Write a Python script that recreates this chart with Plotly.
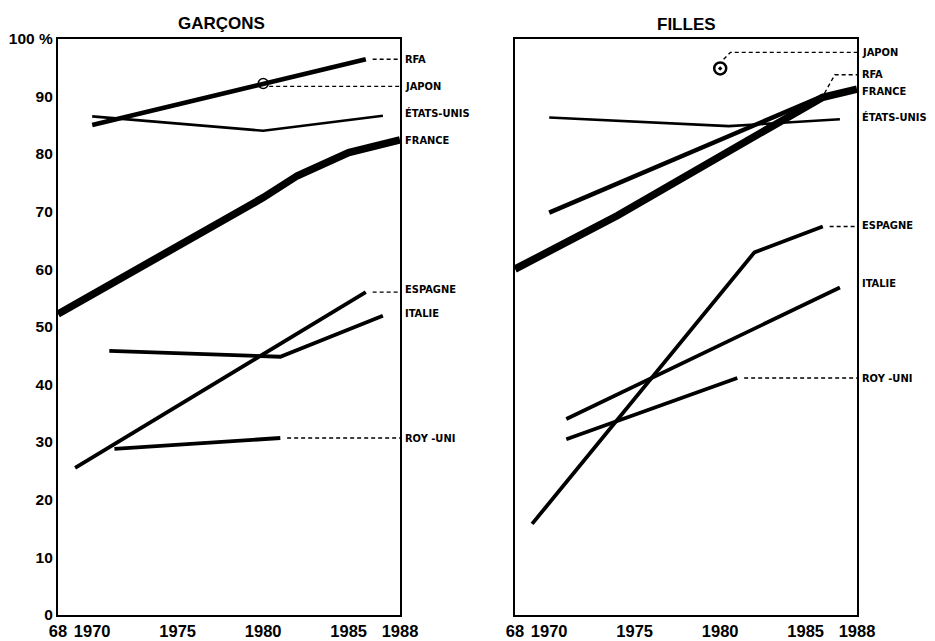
import plotly.graph_objects as go

# ---------------- DATA ----------------
# GARÇONS (boys)
rfa_b_years = [1970, 1986]
rfa_b = [85.0, 96.4]
japon_b_years = [1980]
japon_b = [92.2]
usa_b_years = [1970, 1980, 1987]
usa_b = [86.5, 84.0, 86.6]
fra_b_years = [1968, 1980, 1982, 1985, 1988]
fra_b = [52.2, 72.4, 76.2, 80.2, 82.4]
esp_b_years = [1969, 1986]
esp_b = [25.5, 56.0]
ita_b_years = [1971, 1981, 1987]
ita_b = [45.8, 44.8, 51.9]
ru_b_years = [1971.3, 1981]
ru_b = [28.8, 30.7]

# FILLES (girls)
japon_g_years = [1980]
japon_g = [94.8]
rfa_g_years = [1970, 1986]
rfa_g = [69.8, 90.0]
fra_g_years = [1968, 1974, 1983, 1986, 1988]
fra_g = [60.0, 69.3, 84.7, 89.8, 91.2]
usa_g_years = [1970, 1980.5, 1987]
usa_g = [86.3, 84.8, 86.0]
esp_g_years = [1969, 1982, 1986]
esp_g = [15.8, 62.9, 67.4]
ita_g_years = [1971, 1987]
ita_g = [34.0, 56.8]
ru_g_years = [1971, 1981]
ru_g = [30.5, 41.1]

x_tickvals = [1968, 1970, 1975, 1980, 1985, 1988]
x_ticktext = ["68", "1970", "1975", "1980", "1985", "1988"]
y_tickvals = [0, 10, 20, 30, 40, 50, 60, 70, 80, 90, 100]
y_ticktext = ["0", "10", "20", "30", "40", "50", "60", "70", "80", "90", "100 %"]

panel_titles = ["GARÇONS", "FILLES"]

# ---------------- STYLE / PLACEMENT ----------------
LABEL_FONT = dict(family="Liberation Sans Narrow, DejaVu Sans Condensed, Liberation Sans, Arial",
                  size=11, color="black", weight=700)
XTICK_FONT = dict(family="Liberation Sans, Arial", size=16.5, color="black", weight=700)
YTICK_FONT = dict(family="Liberation Sans, Arial", size=15.5, color="black", weight=700)

# series: (name, years, values, width)
boys = [
    ("RFA", rfa_b_years, rfa_b, 4.8),
    ("ÉTATS-UNIS", usa_b_years, usa_b, 2.6),
    ("FRANCE", fra_b_years, fra_b, 7.5),
    ("ESPAGNE", esp_b_years, esp_b, 3.8),
    ("ITALIE", ita_b_years, ita_b, 3.8),
    ("ROY -UNI", ru_b_years, ru_b, 3.8),
]
girls = [
    ("RFA", rfa_g_years, rfa_g, 4.5),
    ("ÉTATS-UNIS", usa_g_years, usa_g, 2.6),
    ("FRANCE", fra_g_years, fra_g, 7.5),
    ("ESPAGNE", esp_g_years, esp_g, 3.8),
    ("ITALIE", ita_g_years, ita_g, 3.8),
    ("ROY -UNI", ru_g_years, ru_g, 3.8),
]

# label vertical placement (value units) for the right-hand labels
boys_label_y = {"RFA": 96.4, "JAPON": 91.7, "ÉTATS-UNIS": 87.0, "FRANCE": 82.3,
                "ESPAGNE": 56.4, "ITALIE": 52.3, "ROY -UNI": 30.7}
girls_label_y = {"JAPON": 97.6, "RFA": 93.7, "FRANCE": 90.8, "ÉTATS-UNIS": 86.3,
                 "ESPAGNE": 67.6, "ITALIE": 57.5, "ROY -UNI": 41.1}
# which series get a dashed leader line
boys_leaders = ["RFA", "ESPAGNE", "ROY -UNI"]
girls_leaders = ["RFA", "ESPAGNE", "ROY -UNI"]

X_END = 1988

fig = go.Figure()


def add_panel(series, japon_years, japon_vals, label_y, leaders, xa, ya, japon_symbol, japon_size, japon_lw, japon_bend):
    for name, yrs, vals, w in series:
        fig.add_trace(go.Scatter(x=yrs, y=vals, mode="lines", xaxis=xa, yaxis=ya,
                                 line=dict(color="black", width=w), showlegend=False,
                                 hoverinfo="skip"))
        if name in leaders:
            x0, y0 = yrs[-1], vals[-1]
            ly = label_y[name]
            if abs(ly - y0) > 1.0:
                lx = [x0 + 0.1, x0 + 0.7, X_END]
                lyy = [y0 + 0.5, ly, ly]
            else:
                lx = [x0 + 0.4, X_END]
                lyy = [y0, y0]
            fig.add_trace(go.Scatter(x=lx, y=lyy, mode="lines", xaxis=xa, yaxis=ya,
                                     line=dict(color="black", width=1.4, dash="4px,3px"),
                                     showlegend=False, hoverinfo="skip"))
    # Japan: single point with marker and leader
    jx, jy = japon_years[0], japon_vals[0]
    ly = label_y["JAPON"]
    if japon_bend:
        lx = [jx + 0.2, jx + 0.6, X_END]
        lyy = [jy + 1.6, ly, ly]
    else:
        lx = [jx + 0.35, X_END]
        lyy = [ly, ly]
    fig.add_trace(go.Scatter(x=lx, y=lyy, mode="lines", xaxis=xa, yaxis=ya,
                             line=dict(color="black", width=1.4, dash="4px,3px"),
                             showlegend=False, hoverinfo="skip"))
    fig.add_trace(go.Scatter(x=japon_years, y=japon_vals, mode="markers", xaxis=xa, yaxis=ya,
                             marker=dict(symbol=japon_symbol, size=japon_size, color="black",
                                         line=dict(color="black", width=japon_lw)),
                             showlegend=False, hoverinfo="skip"))
    for name, yv in label_y.items():
        fig.add_annotation(x=X_END, y=yv, xref=xa, yref=ya, text=name, showarrow=False,
                           xanchor="left", yanchor="middle", xshift=3, font=LABEL_FONT)


add_panel(boys, japon_b_years, japon_b, boys_label_y, boys_leaders, "x", "y",
          "circle-open", 10, 1.5, False)
add_panel(girls, japon_g_years, japon_g, girls_label_y, girls_leaders, "x2", "y2",
          "circle-open-dot", 12, 2.5, True)

W, H = 935, 641
ydom = [1 - 615 / H, 1 - 38.5 / H]
axis_common = dict(range=[1968, 1988], tickvals=x_tickvals, ticktext=x_ticktext,
                   showgrid=False, zeroline=False, showline=True, linecolor="black",
                   linewidth=2.2, mirror=True, ticks="", tickfont=XTICK_FONT, automargin=False,
                   fixedrange=True)
yaxis_common = dict(range=[0, 100], tickvals=y_tickvals, ticktext=y_ticktext,
                    showgrid=False, zeroline=False, showline=True, linecolor="black",
                    linewidth=2.2, mirror=True, ticks="", tickfont=YTICK_FONT, automargin=False,
                    domain=ydom, fixedrange=True)

fig.update_layout(
    width=W, height=H,
    margin=dict(l=0, r=0, t=0, b=0),
    paper_bgcolor="white", plot_bgcolor="white",
    template="none",
    xaxis=dict(domain=[58 / W, 400 / W], anchor="y", **axis_common),
    yaxis=dict(anchor="x", **yaxis_common),
    xaxis2=dict(domain=[515 / W, 857 / W], anchor="y2", **axis_common),
    yaxis2=dict(anchor="x2", showticklabels=False, **yaxis_common),
)

title_font = dict(family="Liberation Sans, Arial", size=17, color="black", weight=700)
fig.add_annotation(x=0.5, y=1, xref="x domain", yref="y domain", text=panel_titles[0],
                   showarrow=False, yanchor="bottom", yshift=3, xshift=-8, font=title_font)
fig.add_annotation(x=0.5, y=1, xref="x2 domain", yref="y2 domain", text=panel_titles[1],
                   showarrow=False, yanchor="bottom", yshift=3, font=title_font)

fig.write_html("out.html", config={"displayModeBar": False},
               post_script="document.body.style.margin='0';document.body.style.overflow='hidden';")
